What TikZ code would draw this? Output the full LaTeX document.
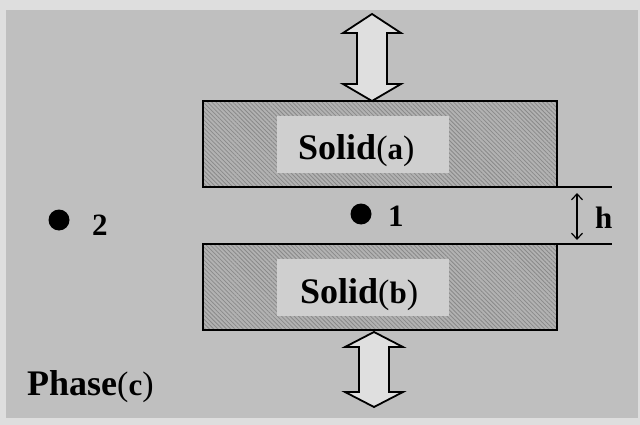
\documentclass[tikz,border=0pt]{standalone}
\usepackage{fontspec}
\setmainfont{Liberation Serif}
\usetikzlibrary{arrows.meta,patterns.meta}
\definecolor{framecol}{HTML}{DEDEDE}
\definecolor{bgcol}{HTML}{BFBFBF}
\definecolor{solidcol}{HTML}{B2B2B2}
\definecolor{hatchcol}{HTML}{8A8A8A}
\definecolor{labelcol}{HTML}{CFCFCF}
\definecolor{arrowcol}{HTML}{DFDFDF}
\tikzset{
  solidbox/.style={draw=black, line width=1.6pt, outer sep=0pt, inner sep=0pt,
    preaction={fill=solidcol},
    pattern={Lines[angle=-45,distance=3pt,line width=0.8pt]}, pattern color=hatchcol,
    minimum width=354pt, minimum height=86pt, anchor=north west},
  labelbox/.style={fill=labelcol, inner sep=0pt, outer sep=0pt,
    minimum width=172pt, minimum height=57pt, anchor=north west},
  bigtext/.style={inner sep=0pt, anchor=base west, font=\bfseries\fontsize{36}{40}\selectfont},
  numtext/.style={inner sep=0pt, anchor=base west, font=\bfseries\fontsize{31}{34}\selectfont},
  dotnode/.style={circle, fill=black, inner sep=0pt, minimum size=21pt},
  edge/.style={draw=black, line width=1.6pt},
  harrow/.style={draw=black, line width=1.2pt, {Straight Barb[length=6pt,width=11pt]}-{Straight Barb[length=6pt,width=11pt]}},
  bigarrow/.style={draw=black, fill=arrowcol, line width=1.8pt, line join=miter}
}
\newcommand{\smallpar}[1]{{\fontsize{34}{38}\selectfont\mdseries(\fontsize{31}{34}\selectfont\bfseries #1\fontsize{34}{38}\selectfont\mdseries)}}
\begin{document}
\begin{tikzpicture}[x=1pt,y=-1pt]
\fill[framecol] (0,0) rectangle (640,425);
\fill[bgcol] (6,10) rectangle (638,418);
\useasboundingbox (0,0) rectangle (640,425);

% solids
\node[solidbox] (sa) at (203,101) {};
\node[solidbox] (sb) at (203,244) {};
\node[labelbox] (la) at (277,116) {};
\node[labelbox] (lb) at (277,259) {};
\node[bigtext] (ta) at (298,160) {Solid\smallpar{a}};
\node[bigtext] (tb) at (300,303) {Solid\smallpar{b}};

% gap lines and h
\coordinate (ga) at (612,187);
\coordinate (gb) at (612,244);
\draw[edge] (sa.south east) -- (ga);
\draw[edge] (sb.north east) -- (gb);
\coordinate (h1) at (577,193);
\coordinate (h2) at (577,240);
\draw[harrow] (h1) -- (h2);
\node[numtext] (th) at (595,228) {h};

% points
\node[dotnode] (d1) at (361,214) {};
\node[numtext] (t1) at (388,226) {1};
\node[dotnode] (d2) at (59,220) {};
\node[numtext] (t2) at (92,235) {2};

% phase label
\node[bigtext] (tc) at (27,395) {Phase\smallpar{c}};

% double arrows
\draw[bigarrow] (372,14) -- (401,33) -- (387,33) -- (387,84) -- (401,84) -- (372,101)
  -- (343,84) -- (357,84) -- (357,33) -- (343,33) -- cycle;
\draw[bigarrow] (374,332) -- (403,347) -- (389,347) -- (389,392) -- (403,392) -- (374,407)
  -- (345,392) -- (359,392) -- (359,347) -- (345,347) -- cycle;
\end{tikzpicture}
\end{document}
